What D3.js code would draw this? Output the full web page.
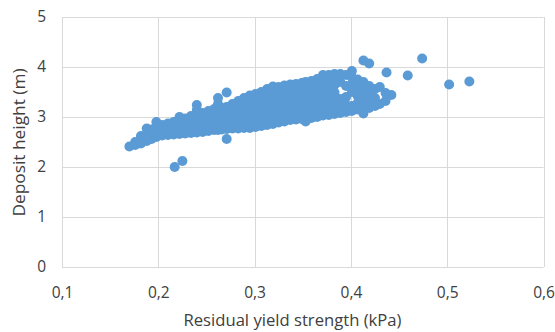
<!DOCTYPE html>
<html>
<head>
<meta charset="utf-8">
<script src="https://cdn.jsdelivr.net/npm/d3@7"></script>
<style>
  body { margin: 0; background: #fff; }
  text { font-family: "Open Sans", sans-serif; fill: #404040; }
</style>
</head>
<body>
<svg id="chart"></svg>
<script>
// Main cloud: [x, y]
const cloud = [
  [0.170, 2.41],
  [0.176, 2.44], [0.176, 2.50],
  [0.182, 2.47], [0.182, 2.58], [0.182, 2.62],
  [0.188, 2.52], [0.188, 2.64], [0.188, 2.77],
  [0.193, 2.56], [0.193, 2.66], [0.193, 2.75],
  [0.198, 2.60], [0.198, 2.72], [0.198, 2.81], [0.198, 2.90],
  [0.204, 2.63], [0.204, 2.74], [0.204, 2.84],
  [0.210, 2.64], [0.210, 2.76], [0.210, 2.87],
  [0.216, 2.65], [0.216, 2.77], [0.216, 2.90],
  [0.222, 2.66], [0.222, 2.78], [0.222, 2.89], [0.222, 3.00],
  [0.228, 2.67], [0.228, 2.79], [0.228, 2.88], [0.228, 2.97],
  [0.234, 2.68], [0.234, 2.80], [0.234, 2.91], [0.234, 3.02],
  [0.240, 2.69], [0.240, 2.81], [0.240, 2.93], [0.240, 3.05], [0.240, 3.14], [0.240, 3.24],
  [0.246, 2.70], [0.246, 2.82], [0.246, 2.95], [0.246, 3.08],
  [0.252, 2.72], [0.252, 2.84], [0.252, 2.98], [0.252, 3.12],
  [0.258, 2.74], [0.258, 2.86], [0.258, 2.99], [0.258, 3.16],
  [0.262, 2.74], [0.262, 2.88], [0.262, 3.02], [0.262, 3.14], [0.262, 3.26], [0.262, 3.38],
  [0.266, 2.75], [0.266, 2.89], [0.266, 3.04], [0.266, 3.18],
  [0.271, 2.56], [0.271, 2.76], [0.271, 2.90], [0.271, 3.05], [0.271, 3.20], [0.271, 3.49],
  [0.277, 2.77], [0.277, 2.90], [0.277, 3.02], [0.277, 3.14], [0.277, 3.26],
  [0.283, 2.77], [0.283, 2.91], [0.283, 3.05], [0.283, 3.19], [0.283, 3.32],
  [0.289, 2.78], [0.289, 2.92], [0.289, 3.06], [0.289, 3.21], [0.289, 3.38],
  [0.295, 2.78], [0.295, 2.93], [0.295, 3.08], [0.295, 3.22], [0.295, 3.33], [0.295, 3.43],
  [0.301, 2.80], [0.301, 2.94], [0.301, 3.09], [0.301, 3.23], [0.301, 3.36], [0.301, 3.46],
  [0.307, 2.82], [0.307, 2.96], [0.307, 3.10], [0.307, 3.25], [0.307, 3.38], [0.307, 3.50],
  [0.313, 2.84], [0.313, 2.98], [0.313, 3.12], [0.313, 3.27], [0.313, 3.42], [0.313, 3.56],
  [0.319, 2.86], [0.319, 3.00], [0.319, 3.14], [0.319, 3.29], [0.319, 3.45], [0.319, 3.61],
  [0.325, 2.89], [0.325, 3.02], [0.325, 3.16], [0.325, 3.31], [0.325, 3.46], [0.325, 3.60],
  [0.331, 2.91], [0.331, 3.04], [0.331, 3.18], [0.331, 3.33], [0.331, 3.48], [0.331, 3.63],
  [0.337, 2.94], [0.337, 3.07], [0.337, 3.21], [0.337, 3.36], [0.337, 3.51], [0.337, 3.65],
  [0.343, 2.95], [0.343, 3.09], [0.343, 3.23], [0.343, 3.38], [0.343, 3.53], [0.343, 3.66],
  [0.349, 2.96], [0.349, 3.10], [0.349, 3.25], [0.349, 3.40], [0.349, 3.55], [0.349, 3.68],
  [0.353, 2.91], [0.353, 3.04], [0.353, 3.18], [0.353, 3.33], [0.353, 3.48], [0.353, 3.60], [0.353, 3.70],
  [0.359, 2.98], [0.359, 3.12], [0.359, 3.27], [0.359, 3.42], [0.359, 3.57], [0.359, 3.72],
  [0.365, 3.00], [0.365, 3.14], [0.365, 3.29], [0.365, 3.44], [0.365, 3.60], [0.365, 3.76],
  [0.371, 3.03], [0.371, 3.17], [0.371, 3.31], [0.371, 3.46], [0.371, 3.61], [0.371, 3.72], [0.371, 3.84],
  [0.377, 3.04], [0.377, 3.18], [0.377, 3.33], [0.377, 3.48], [0.377, 3.63], [0.377, 3.76], [0.377, 3.84],
  [0.383, 3.06], [0.383, 3.20], [0.383, 3.35], [0.383, 3.49], [0.383, 3.64], [0.383, 3.78], [0.383, 3.86],
  [0.389, 3.08], [0.389, 3.22], [0.389, 3.36], [0.389, 3.70], [0.389, 3.86],
  [0.395, 3.10], [0.395, 3.24], [0.395, 3.40], [0.395, 3.62], [0.395, 3.84],
  [0.401, 3.12], [0.401, 3.22], [0.401, 3.50], [0.401, 3.66], [0.401, 3.80], [0.401, 3.92],
  [0.407, 3.15], [0.407, 3.28], [0.407, 3.42], [0.407, 3.58], [0.407, 3.75],
  [0.413, 3.07], [0.413, 3.20], [0.413, 3.36], [0.413, 3.52], [0.413, 3.70], [0.413, 4.13],
  [0.419, 3.18], [0.419, 3.32], [0.419, 3.47], [0.419, 3.62], [0.419, 4.07],
  [0.425, 3.22], [0.425, 3.38], [0.425, 3.56],
  [0.430, 3.26], [0.430, 3.60],
  [0.436, 3.32], [0.436, 3.48], [0.437, 3.89],
  [0.442, 3.44]
];

// Points standing apart from the cloud
const outliers = [
  [0.217, 2.00], [0.225, 2.12],
  [0.459, 3.83], [0.474, 4.17],
  [0.502, 3.65], [0.523, 3.71]
];

const xTicks = [0.1, 0.2, 0.3, 0.4, 0.5, 0.6];
const yTicks = [0, 1, 2, 3, 4, 5];
const xTitle = "Residual yield strength (kPa)";
const yTitle = "Deposit height (m)";

const width = 555;
const height = 332;
const margin = { top: 17, right: 11.5, bottom: 65, left: 62 };

const svg = d3.select("#chart")
  .attr("width", width)
  .attr("height", height);

const x = d3.scaleLinear()
  .domain([0.1, 0.6])
  .range([margin.left, width - margin.right]);

const y = d3.scaleLinear()
  .domain([0, 5])
  .range([height - margin.bottom, margin.top]);

// Gridlines
svg.append("g")
  .selectAll("line")
  .data(xTicks)
  .enter()
  .append("line")
  .attr("x1", d => Math.round(x(d)) + 0.5)
  .attr("x2", d => Math.round(x(d)) + 0.5)
  .attr("y1", y(5))
  .attr("y2", y(0))
  .attr("stroke", "#d9d9d9");

svg.append("g")
  .selectAll("line")
  .data(yTicks)
  .enter()
  .append("line")
  .attr("x1", x(0.1))
  .attr("x2", x(0.6))
  .attr("y1", d => Math.round(y(d)) + 0.5)
  .attr("y2", d => Math.round(y(d)) + 0.5)
  .attr("stroke", "#d9d9d9");

// Axes (labels only, lines come from the grid)
const xAxis = d3.axisBottom(x)
  .tickValues(xTicks)
  .tickFormat(d => d3.format(".1f")(d).replace(".", ","))
  .tickSize(0)
  .tickPadding(20);

const yAxis = d3.axisLeft(y)
  .tickValues(yTicks)
  .tickFormat(d3.format("d"))
  .tickSize(0)
  .tickPadding(16);

svg.append("g")
  .attr("transform", "translate(0," + y(0) + ")")
  .call(xAxis)
  .call(g => g.select(".domain").remove())
  .selectAll("text")
  .style("font-size", "15.5px")
  .style("font-family", "Open Sans, sans-serif")
  .attr("fill", "#404040");

svg.append("g")
  .attr("transform", "translate(" + x(0.1) + ",0)")
  .call(yAxis)
  .call(g => g.select(".domain").remove())
  .selectAll("text")
  .style("font-size", "15.5px")
  .style("font-family", "Open Sans, sans-serif")
  .attr("fill", "#404040");

// Points
const allPoints = cloud.concat(outliers);

svg.append("g")
  .selectAll("circle")
  .data(allPoints)
  .enter()
  .append("circle")
  .attr("cx", d => x(d[0]))
  .attr("cy", d => y(d[1]))
  .attr("r", 5)
  .attr("fill", "#5b9bd5");

// Axis titles
svg.append("text")
  .attr("x", 292.5)
  .attr("y", 326)
  .attr("text-anchor", "middle")
  .attr("textLength", 218)
  .attr("lengthAdjust", "spacingAndGlyphs")
  .style("font-size", "16.5px")
  .text(xTitle);

svg.append("text")
  .attr("transform", "translate(25,142.5) rotate(-90)")
  .attr("text-anchor", "middle")
  .attr("textLength", 148)
  .attr("lengthAdjust", "spacingAndGlyphs")
  .style("font-size", "16.5px")
  .text(yTitle);
</script>
</body>
</html>
